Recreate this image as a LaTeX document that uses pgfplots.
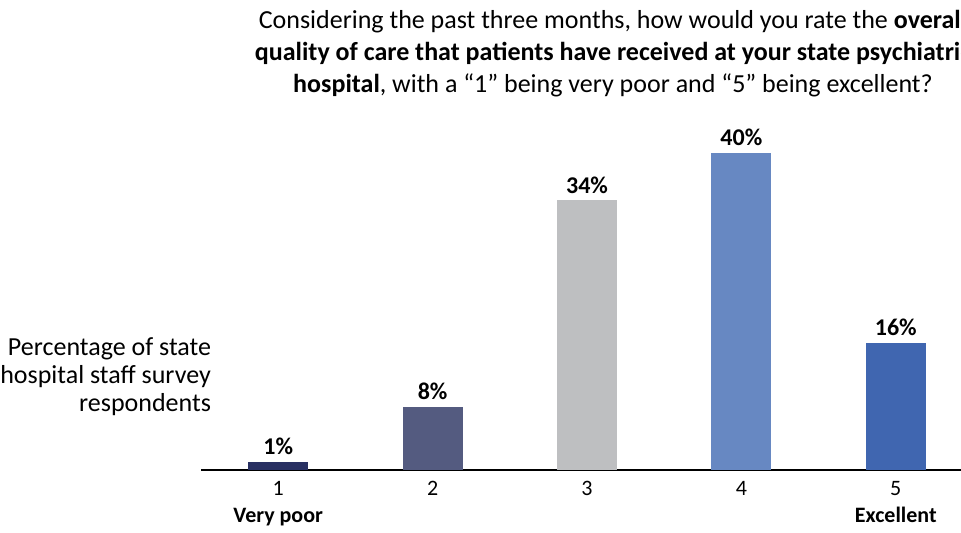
\documentclass[border=0pt]{standalone}
\usepackage{pgfplots}
\pgfplotsset{compat=1.18}
\usepackage{fontspec}
\setmainfont{Carlito}
\definecolor{c1}{HTML}{283062}
\definecolor{c2}{HTML}{545B80}
\definecolor{c3}{HTML}{BEBFC1}
\definecolor{c4}{HTML}{6788C2}
\definecolor{c5}{HTML}{4066B0}
\begin{document}
\begin{tikzpicture}[x=0.5pt,y=0.5pt]
\path[use as bounding box] (0,0) rectangle (961,532);
\begin{axis}[
  at={(100.5pt,31pt)}, anchor=south west,
  scale only axis, width=386pt, height=178.5pt,
  xmin=0.5, xmax=5.5, ymin=0, ymax=45,
  axis y line=none, axis x line*=bottom,
  x axis line style={line width=0.6pt, black},
  ybar, bar width=30pt,
  xtick={1,2,3,4,5},
  xticklabels={{1\\\textbf{Very poor}},2,3,4,{5\\\textbf{Excellent}}},
  major tick length=0pt,
  /pgf/number format/assume math mode=true,
  xticklabel style={align=center, font=\fontsize{11}{13.5}\selectfont, anchor=north, yshift=-2pt},
  nodes near coords={\pgfmathprintnumber{\pgfplotspointmeta}\%},
  nodes near coords style={font=\fontsize{12}{13}\selectfont\bfseries, text=black},
  clip=false,
]
\addplot[bar shift=0pt, fill=c1, draw=none] coordinates {(1,1)};
\addplot[bar shift=0pt, fill=c2, draw=none] coordinates {(2,8)};
\addplot[bar shift=0pt, fill=c3, draw=none] coordinates {(3,34)};
\addplot[bar shift=0pt, fill=c4, draw=none] coordinates {(4,40)};
\addplot[bar shift=0pt, fill=c5, draw=none] coordinates {(5,16)};
\end{axis}
\node[align=right, anchor=east, font=\fontsize{13}{14}\selectfont] at (218,155) {Percentage of state\\hospital staff survey\\respondents};
\node[align=center, font=\fontsize{13}{16}\selectfont] at (613,478) {Considering the past three months, how would you rate the \textbf{overall}\\\textbf{quality of care that patients have received at your state psychiatric}\\\textbf{hospital}, with a “1” being very poor and “5” being excellent?};
\end{tikzpicture}
\end{document}
